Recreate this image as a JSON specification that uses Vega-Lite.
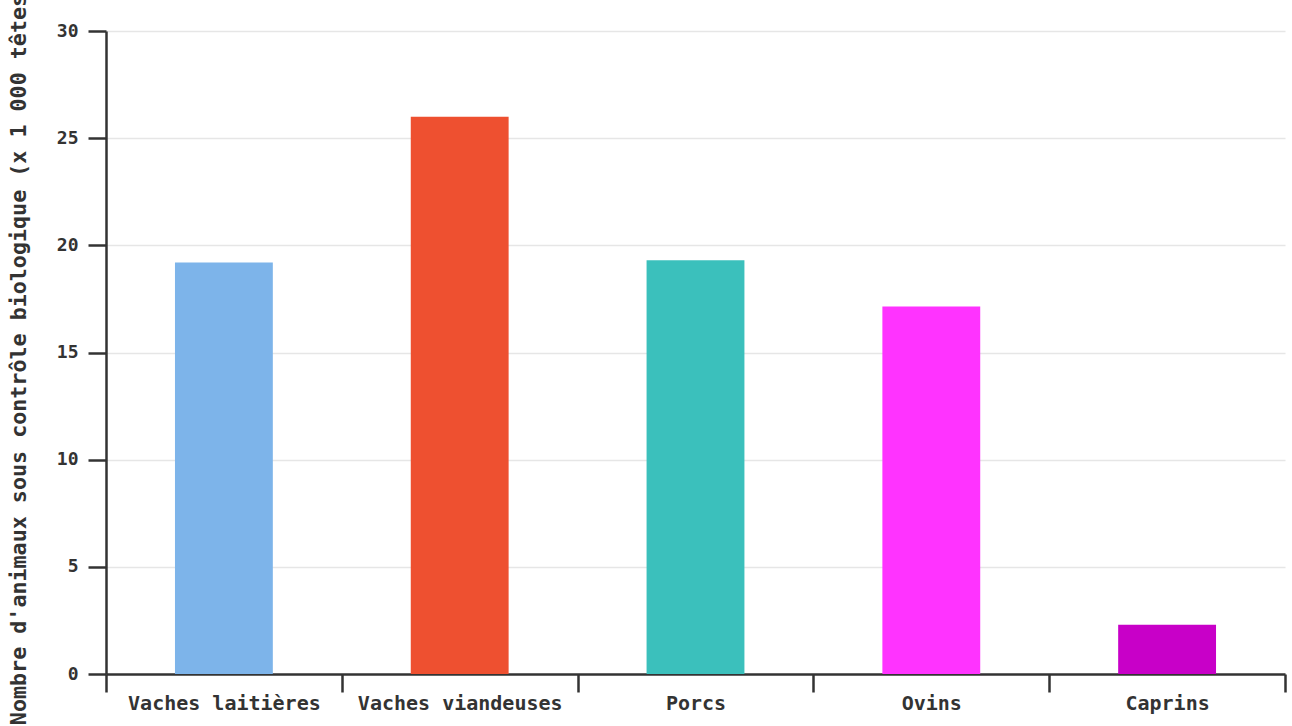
{
  "$schema": "https://vega.github.io/schema/vega-lite/v6.json",
  "autosize": "none",
  "padding": {"left": 106, "top": 31, "right": 7, "bottom": 52},
  "width": 1179,
  "height": 643,
  "background": "white",
  "config": {
    "view": {"stroke": null},
    "font": "DejaVu Sans Mono"
  },
  "data": {
    "values": [
      {"type": "Vaches laitières", "value": 19.2, "color": "#7db4ea"},
      {"type": "Vaches viandeuses", "value": 26.0, "color": "#ee5030"},
      {"type": "Porcs", "value": 19.3, "color": "#3bc0bc"},
      {"type": "Ovins", "value": 17.15, "color": "#ff33ff"},
      {"type": "Caprins", "value": 2.3, "color": "#c800c8"}
    ]
  },
  "mark": {"type": "bar", "width": {"band": 0.415}},
  "encoding": {
    "x": {
      "field": "type",
      "type": "nominal",
      "sort": null,
      "scale": {"paddingInner": 0, "paddingOuter": 0},
      "axis": {
        "title": null,
        "labelAngle": 0,
        "labelLimit": 0,
        "tickBand": "extent",
        "tickSize": 18,
        "tickWidth": 2.5,
        "tickColor": "#333333",
        "domainColor": "#333333",
        "domainWidth": 2.5,
        "labelFont": "DejaVu Sans Mono",
        "labelFontWeight": "bold",
        "labelFontSize": 20,
        "labelColor": "#333333",
        "labelPadding": 1,
        "grid": false
      }
    },
    "y": {
      "field": "value",
      "type": "quantitative",
      "scale": {"domain": [0, 30], "nice": false},
      "axis": {
        "title": "Nombre d'animaux sous contrôle biologique (x 1 000 têtes)",
        "titleFont": "DejaVu Sans Mono",
        "titleFontWeight": "bold",
        "titleFontSize": 21.7,
        "titleColor": "#333333",
        "titlePadding": 26,
        "values": [0, 5, 10, 15, 20, 25, 30],
        "tickSize": 18,
        "tickWidth": 2.5,
        "tickColor": "#333333",
        "domainColor": "#333333",
        "domainWidth": 2.5,
        "labelFont": "DejaVu Sans Mono",
        "labelFontWeight": "bold",
        "labelFontSize": 18,
        "labelColor": "#333333",
        "labelPadding": 10,
        "grid": true,
        "gridColor": "#e6e6e6",
        "gridWidth": 1.5
      }
    },
    "color": {"field": "color", "type": "nominal", "scale": null, "legend": null}
  }
}
